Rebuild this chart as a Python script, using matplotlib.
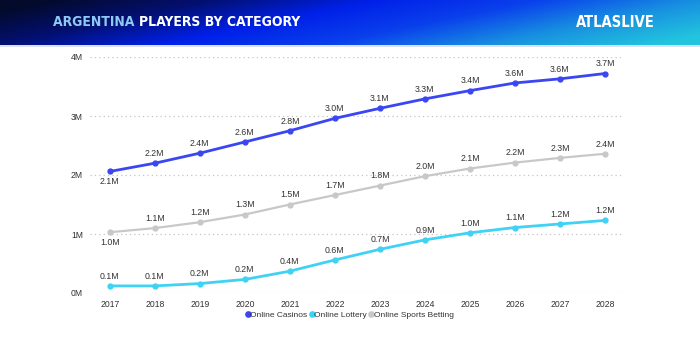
import numpy as np
import matplotlib
matplotlib.use("Agg")
from matplotlib import pyplot as plt
from matplotlib.colors import LinearSegmentedColormap
from matplotlib.lines import Line2D

# data (millions of players)
years = [2017, 2018, 2019, 2020, 2021, 2022, 2023, 2024, 2025, 2026, 2027, 2028]
casinos = [2.06, 2.20, 2.37, 2.56, 2.75, 2.96, 3.13, 3.29, 3.43, 3.56, 3.63, 3.72]
lottery = [0.12, 0.12, 0.16, 0.23, 0.37, 0.56, 0.74, 0.90, 1.02, 1.11, 1.17, 1.23]
sports = [1.03, 1.10, 1.20, 1.33, 1.50, 1.66, 1.82, 1.98, 2.11, 2.21, 2.29, 2.36]
y_ticks = [0, 1, 2, 3, 4]
series_names = ["Online Casinos", "Online Lottery", "Online Sports Betting"]

plt.rcParams['font.family'] = ['Liberation Sans', 'DejaVu Sans']

fig = plt.figure(figsize=(7, 3.5), dpi=100)
fig.patch.set_facecolor('white')

# header band with gradient
hdr = fig.add_axes([0, 1 - 45 / 350, 1, 45 / 350])
hdr.set_axis_off()
gx = np.linspace(0, 1, 350)
gy = np.linspace(0, 1, 24)
X, Y = np.meshgrid(gx, gy)
T = np.clip(X * 0.85 + Y * 0.25 - 0.05, 0, 1)
cmap = LinearSegmentedColormap.from_list(
    "hdr", ["#030a2a", "#031070", "#0020e8", "#0a40ec", "#1890e0", "#22c4de"])
hdr.imshow(T, cmap=cmap, aspect='auto', extent=[0, 1, 0, 1], origin='upper')
hdr.set_xlim(0, 1)
hdr.set_ylim(0, 1)
hdr_font = ['DejaVu Sans']
t1 = hdr.text(53 / 700, 0.5, "ARGENTINA ", color="#8ec8f4", fontsize=10,
              fontweight='bold', family=hdr_font, fontstretch='condensed',
              va='center', ha='left')
fig.canvas.draw()
bb = t1.get_window_extent()
x2 = hdr.transAxes.inverted().transform((bb.x1, bb.y0))[0]
hdr.text(x2, 0.5, "PLAYERS BY CATEGORY", color="white", fontsize=10,
         fontweight='bold', family=hdr_font, fontstretch='condensed',
         va='center', ha='left')
hdr.text(655 / 700, 0.5, "ATLASLIVE", color="white", fontsize=10.5,
         fontweight='bold', family=hdr_font, fontstretch='condensed',
         va='center', ha='right')
fig.add_artist(Line2D([0, 1], [1 - 46 / 350, 1 - 46 / 350], color="#d6dcf0", lw=1.2))

# main chart
ax = fig.add_axes([90 / 700, 57 / 350, 533 / 700, 236 / 350])
colors = ["#3a46f2", "#3fd2f4", "#c8c8c8"]
widths = [2.0, 2.0, 1.6]
all_series = [casinos, lottery, sports]
for vals, c, w in zip(all_series, colors, widths):
    ax.plot(years, vals, color=c, lw=w, marker='o', markersize=3.5, zorder=3)

# data labels
for k, vals in enumerate(all_series):
    for i, (x, v) in enumerate(zip(years, vals)):
        below = (i == 0 and k != 1)
        off = -7.5 if below else 7
        ax.annotate(f"{v:.1f}M", (x, v), xytext=(0, off), textcoords='offset points',
                    ha='center', va='center', fontsize=6.3, color="#333333")

ax.set_xlim(2016.56, 2028.4)
ax.set_ylim(0, 4)
ax.set_xticks(years)
ax.set_xticklabels([str(y) for y in years])
ax.set_yticks(y_ticks)
ax.set_yticklabels([f"{t}M" for t in y_ticks])
ax.tick_params(length=0, labelsize=6.2, labelcolor="#333333")
ax.tick_params(axis='y', pad=5)
ax.tick_params(axis='x', pad=5)
for s in ax.spines.values():
    s.set_visible(False)
ax.grid(axis='y', linestyle=(0, (1, 2.5)), color="#c4c4c4", lw=0.9)
ax.set_axisbelow(True)

handles = [Line2D([], [], color=c, marker='o', linestyle='none', markersize=3.8) for c in colors]
fig.legend(handles, series_names, loc='center', bbox_to_anchor=(349 / 700, 1 - 315 / 350),
           ncol=3, frameon=False, fontsize=6, handletextpad=-0.1, columnspacing=0.1,
           labelcolor="#333333", handlelength=0.8)

fig.savefig("out.png", dpi=100, facecolor='white')
